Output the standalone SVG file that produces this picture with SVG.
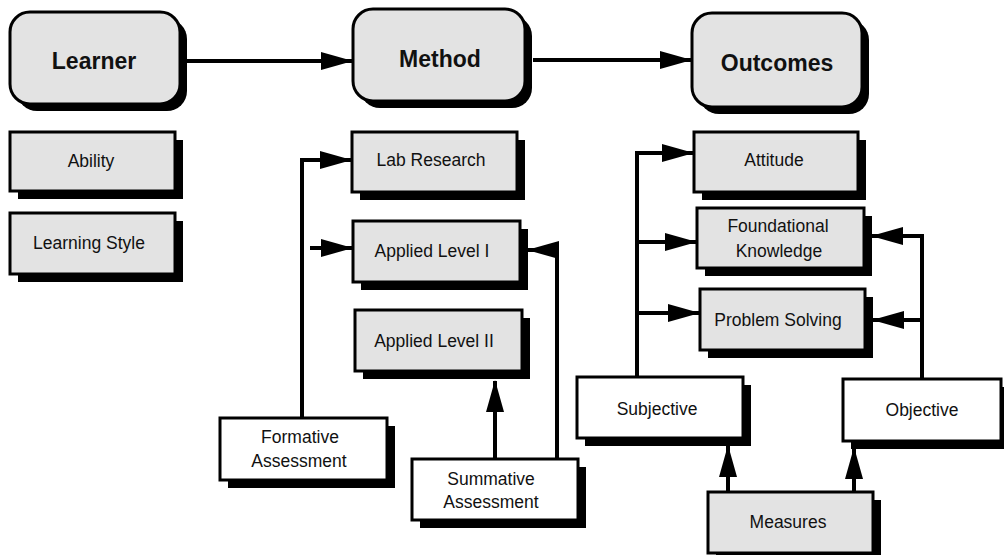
<svg xmlns="http://www.w3.org/2000/svg" width="1004" height="555" viewBox="0 0 1004 555">
<defs>
<style>
.sh{fill:#000}
.g{fill:#e3e3e3;stroke:#000;stroke-width:3}
.w{fill:#fff;stroke:#000;stroke-width:3}
.big{font-family:"Liberation Sans",Arial,sans-serif;font-weight:bold;font-size:23px;fill:#111;text-anchor:middle}
.t{font-family:"Liberation Sans",Arial,sans-serif;font-size:17.5px;fill:#111;text-anchor:middle}
.c{fill:none;stroke:#000;stroke-width:4;stroke-linejoin:miter}
</style>
<marker id="ah" markerUnits="userSpaceOnUse" markerWidth="32" markerHeight="18" refX="31" refY="9" orient="auto" viewBox="0 0 32 18">
<path d="M0,0 L32,9 L0,18 z" fill="#000"/>
</marker>
</defs>
<rect width="1004" height="555" fill="#fff"/>
<g id="connectors">
<path class="c" d="M187,61 H352" marker-end="url(#ah)"/>
<path class="c" d="M533,60 H691" marker-end="url(#ah)"/>
<path class="c" d="M302,418 V160 H351" marker-end="url(#ah)"/>
<path class="c" d="M310,248 H352" marker-end="url(#ah)"/>
<path class="c" d="M557,459 V250 H528" marker-end="url(#ah)"/>
<path class="c" d="M495,459 V381" marker-end="url(#ah)"/>
<path class="c" d="M637,377 V153 H693" marker-end="url(#ah)"/>
<path class="c" d="M637,242 H696" marker-end="url(#ah)"/>
<path class="c" d="M637,313 H699" marker-end="url(#ah)"/>
<path class="c" d="M922,378 V236 H872" marker-end="url(#ah)"/>
<path class="c" d="M922,320 H873" marker-end="url(#ah)"/>
<path class="c" d="M728,492 V446" marker-end="url(#ah)"/>
<path class="c" d="M854,492 V448" marker-end="url(#ah)"/>
</g>
<g id="learner">
<rect class="sh" x="17" y="19" width="170" height="92" rx="20"/>
<rect class="g" x="10" y="12" width="170" height="92" rx="20"/>
<text class="big" x="94" y="69">Learner</text>
</g>
<g id="method">
<rect class="sh" x="360" y="16" width="172" height="92" rx="20"/>
<rect class="g" x="353" y="9" width="172" height="92" rx="20"/>
<text class="big" x="440" y="67">Method</text>
</g>
<g id="outcomes">
<rect class="sh" x="699" y="20" width="170" height="94" rx="20"/>
<rect class="g" x="692" y="13" width="170" height="94" rx="20"/>
<text class="big" x="777" y="71">Outcomes</text>
</g>
<g id="ability">
<rect class="sh" x="18" y="140" width="165" height="59"/>
<rect class="g" x="10" y="132" width="165" height="59"/>
<text class="t" x="91" y="167">Ability</text>
</g>
<g id="learning-style">
<rect class="sh" x="18" y="221" width="165" height="61"/>
<rect class="g" x="10" y="213" width="165" height="61"/>
<text class="t" x="89" y="249">Learning Style</text>
</g>
<g id="lab-research">
<rect class="sh" x="360" y="140" width="165" height="60"/>
<rect class="g" x="352" y="132" width="165" height="60"/>
<text class="t" x="431" y="166">Lab Research</text>
</g>
<g id="applied-1">
<rect class="sh" x="361" y="229" width="167" height="61"/>
<rect class="g" x="353" y="221" width="167" height="61"/>
<text class="t" x="432" y="257">Applied Level I</text>
</g>
<g id="applied-2">
<rect class="sh" x="363" y="318" width="167" height="61"/>
<rect class="g" x="355" y="310" width="167" height="61"/>
<text class="t" x="434" y="347">Applied Level II</text>
</g>
<g id="formative">
<rect class="sh" x="228" y="426" width="167" height="62"/>
<rect class="w" x="220" y="418" width="167" height="62"/>
<text class="t" x="300" y="443">Formative</text>
<text class="t" x="299" y="467">Assessment</text>
</g>
<g id="summative">
<rect class="sh" x="420" y="467" width="166" height="61"/>
<rect class="w" x="412" y="459" width="166" height="61"/>
<text class="t" x="491" y="485">Summative</text>
<text class="t" x="491" y="508">Assessment</text>
</g>
<g id="attitude">
<rect class="sh" x="702" y="140" width="164" height="60"/>
<rect class="g" x="694" y="132" width="164" height="60"/>
<text class="t" x="774" y="166">Attitude</text>
</g>
<g id="foundational">
<rect class="sh" x="705" y="216" width="167" height="60"/>
<rect class="g" x="697" y="208" width="167" height="60"/>
<text class="t" x="778" y="232">Foundational</text>
<text class="t" x="779" y="257">Knowledge</text>
</g>
<g id="problem-solving">
<rect class="sh" x="708" y="297" width="165" height="61"/>
<rect class="g" x="700" y="289" width="165" height="61"/>
<text class="t" x="778" y="326">Problem Solving</text>
</g>
<g id="subjective">
<rect class="sh" x="585" y="385" width="166" height="61"/>
<rect class="w" x="577" y="377" width="166" height="61"/>
<text class="t" x="657" y="415">Subjective</text>
</g>
<g id="objective">
<rect class="sh" x="851" y="387" width="158" height="62"/>
<rect class="w" x="843" y="379" width="158" height="62"/>
<text class="t" x="922" y="416">Objective</text>
</g>
<g id="measures">
<rect class="sh" x="716" y="500" width="165" height="61"/>
<rect class="g" x="708" y="492" width="165" height="61"/>
<text class="t" x="788" y="528">Measures</text>
</g>
</svg>
